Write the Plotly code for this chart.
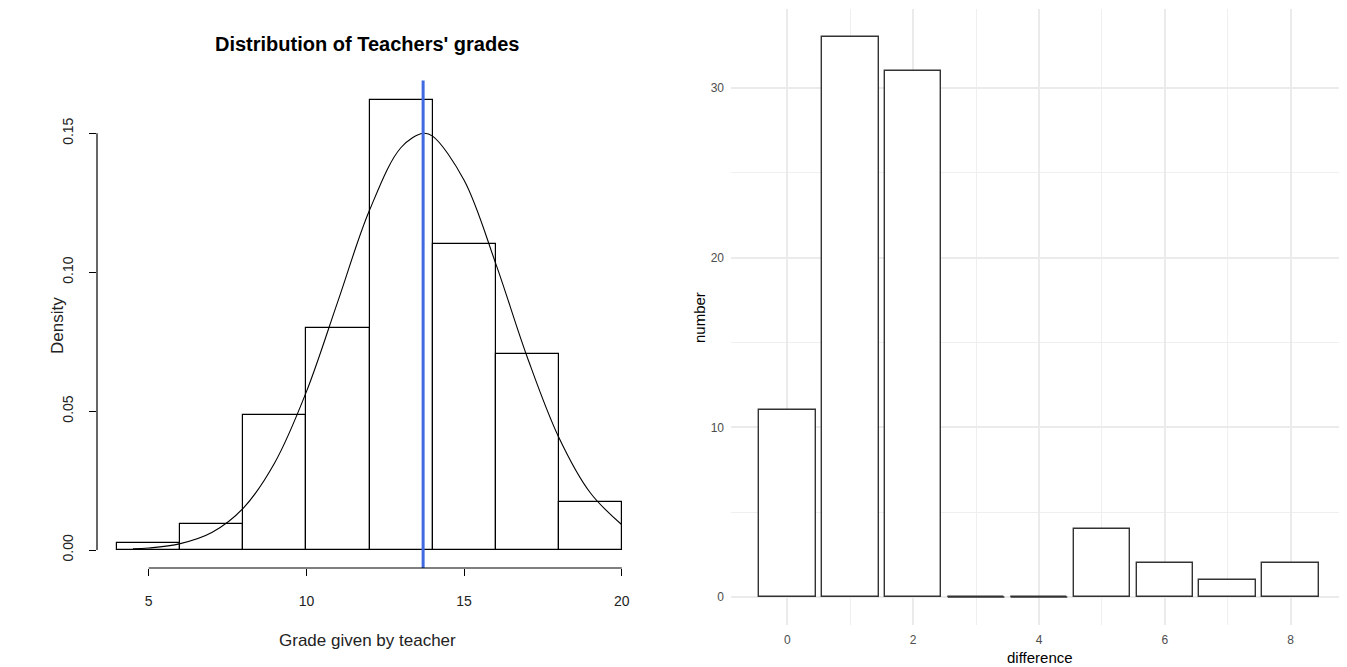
import plotly.graph_objects as go

# ---- Left panel data: histogram of teachers' grades (density) ----
bin_edges = [4, 6, 8, 10, 12, 14, 16, 18, 20]
densities = [0.0025, 0.0094, 0.0486, 0.0799, 0.162, 0.110, 0.0705, 0.0173]
curve_x = [4.5, 5, 6, 7, 8, 9, 10, 11, 12, 13, 13.7, 14, 15, 16, 17, 18, 19, 20]
curve_y = [0.0004, 0.0007, 0.0023, 0.0063, 0.0151, 0.0315, 0.057, 0.0896, 0.1223,
           0.1449, 0.150, 0.149, 0.1331, 0.1032, 0.0695, 0.0406, 0.0206, 0.0091]
mean_grade = 13.7
left_xticks = [5, 10, 15, 20]
left_yticks = [0.00, 0.05, 0.10, 0.15]
left_ytick_labels = ["0.00", "0.05", "0.10", "0.15"]

# ---- Right panel data: differences ----
difference = [0, 1, 2, 3, 4, 5, 6, 7, 8]
number = [11, 33, 31, 0, 0, 4, 2, 1, 2]
right_xticks = [0, 2, 4, 6, 8]
right_yticks = [0, 10, 20, 30]

BAR_W = 0.9
FONT = "Liberation Sans, Arial, sans-serif"

# page has an 8px body margin; the figure is sized to fill the rest of the window
OFF = 8
W, H = 1347 - OFF, 667 - OFF


def px(x):
    return (x - OFF) / W


def py(y):
    return 1 - (y - OFF) / H


fig = go.Figure()

# Histogram bars
centers = [(a + b) / 2 for a, b in zip(bin_edges[:-1], bin_edges[1:])]
widths = [b - a for a, b in zip(bin_edges[:-1], bin_edges[1:])]
fig.add_trace(go.Bar(x=centers, y=densities, width=widths, xaxis="x", yaxis="y",
                     marker=dict(color="white", line=dict(color="black", width=1.2)),
                     showlegend=False, hoverinfo="skip"))
# normal curve
fig.add_trace(go.Scatter(x=curve_x, y=curve_y, mode="lines", xaxis="x", yaxis="y",
                         line=dict(color="black", width=1.1, shape="spline"),
                         showlegend=False, hoverinfo="skip"))

# Right bars
fig.add_trace(go.Bar(x=difference, y=number, width=BAR_W, xaxis="x2", yaxis="y2",
                     marker=dict(color="white", line=dict(color="#333333", width=1.4)),
                     showlegend=False, hoverinfo="skip"))
# zero-height bars drawn as flat outlines
zx, zy = [], []
for d, n in zip(difference, number):
    if n == 0:
        zx += [d - BAR_W / 2, d + BAR_W / 2, None]
        zy += [0, 0, None]
fig.add_trace(go.Scatter(x=zx, y=zy, mode="lines", xaxis="x2", yaxis="y2",
                         line=dict(color="#333333", width=1.4),
                         showlegend=False, hoverinfo="skip"))

shapes = [
    # mean line (blue)
    dict(type="line", xref="x", yref="y domain", x0=mean_grade, x1=mean_grade,
         y0=0, y1=1.003, line=dict(color="#4169E1", width=3)),
    # R-style axis lines spanning tick range
    dict(type="line", xref="x", yref="y domain", x0=min(left_xticks), x1=max(left_xticks),
         y0=0, y1=0, line=dict(color="black", width=1.2)),
    dict(type="line", xref="x domain", yref="y", x0=0, x1=0,
         y0=min(left_yticks), y1=max(left_yticks), line=dict(color="black", width=1.2)),
]

lo_d, hi_d = 0, max(densities)
pad_y = (hi_d - lo_d) * 0.04
lo_x, hi_x = bin_edges[0], bin_edges[-1]
pad_x = (hi_x - lo_x) * 0.04

ymax_r = max(number)
fig.update_layout(
    width=W, height=H,
    margin=dict(l=0, r=0, t=0, b=0),
    paper_bgcolor="white", plot_bgcolor="white",
    font=dict(family=FONT, color="black"),
    bargap=0,
    shapes=shapes,
    xaxis=dict(domain=[px(97), px(642)], range=[lo_x - pad_x, hi_x + pad_x],
               tickvals=left_xticks, ticks="outside", ticklen=7, tickwidth=1.2,
               tickcolor="black", showgrid=False, zeroline=False, showline=False,
               ticklabelstandoff=13,
               tickfont=dict(size=14, color="#222222"), anchor="y"),
    yaxis=dict(domain=[py(568), py(82)], range=[lo_d - pad_y, hi_d + pad_y],
               tickvals=left_yticks, ticktext=left_ytick_labels, tickangle=-90,
               ticks="outside", ticklen=7, tickwidth=1.2, tickcolor="black",
               showgrid=False, zeroline=False, showline=False,
               ticklabelstandoff=10,
               tickfont=dict(size=14, color="#222222"), anchor="x"),
    xaxis2=dict(domain=[px(731), 1.0], range=[-0.895, 8.895],
                tickvals=right_xticks, ticks="", showgrid=True, gridcolor="#EBEBEB",
                gridwidth=1.5, zeroline=False, showline=False,
                minor=dict(dtick=1, showgrid=True, gridcolor="#EFEFEF", gridwidth=1),
                ticklabelstandoff=6,
                tickfont=dict(size=12, color="#4D4D4D"), anchor="y2"),
    yaxis2=dict(domain=[py(625), py(9)], range=[-ymax_r * 0.05, ymax_r * 1.05],
                tickvals=right_yticks, ticks="", showgrid=True, gridcolor="#EBEBEB",
                gridwidth=1.5, zeroline=False, showline=False,
                minor=dict(dtick=5, showgrid=True, gridcolor="#EFEFEF", gridwidth=1),
                ticklabelstandoff=6,
                tickfont=dict(size=12, color="#4D4D4D"), anchor="x2"),
    annotations=[
        dict(text="<b>Distribution of Teachers' grades</b>", xref="paper", yref="paper",
             x=px(367), y=py(44), showarrow=False,
             font=dict(size=20, color="black"), xanchor="center", yanchor="middle"),
        dict(text="Grade given by teacher", xref="paper", yref="paper",
             x=px(367), y=py(640), showarrow=False,
             font=dict(size=17, color="#222222"), xanchor="center", yanchor="middle"),
        dict(text="Density", xref="paper", yref="paper", textangle=-90,
             x=px(57), y=py(326), showarrow=False,
             font=dict(size=17, color="#222222"), xanchor="center", yanchor="middle"),
        dict(text="number", xref="paper", yref="paper", textangle=-90,
             x=px(700), y=py(318), showarrow=False,
             font=dict(size=15, color="black"), xanchor="center", yanchor="middle"),
        dict(text="difference", xref="paper", yref="paper",
             x=px(1040), y=py(657), showarrow=False,
             font=dict(size=15, color="black"), xanchor="center", yanchor="middle"),
    ],
)

fig.write_html("out.html")
